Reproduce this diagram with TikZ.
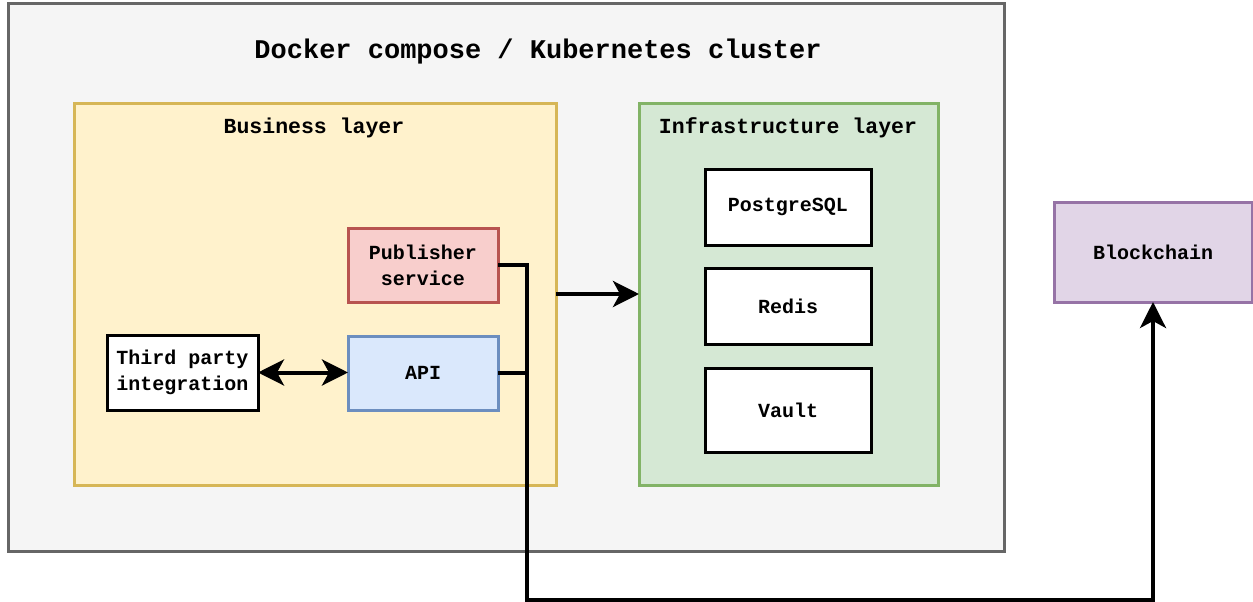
\documentclass[tikz,border=0pt]{standalone}
\usepackage{fontspec}
\setmainfont{Liberation Mono}
\usetikzlibrary{arrows.meta}
\definecolor{outerfill}{HTML}{F5F5F5}
\definecolor{outerdraw}{HTML}{666666}
\definecolor{bizfill}{HTML}{FFF2CC}
\definecolor{bizdraw}{HTML}{D6B656}
\definecolor{infrafill}{HTML}{D5E8D4}
\definecolor{infradraw}{HTML}{82B366}
\definecolor{pubfill}{HTML}{F8CECC}
\definecolor{pubdraw}{HTML}{B85450}
\definecolor{apifill}{HTML}{DAE8FC}
\definecolor{apidraw}{HTML}{6C8EBF}
\definecolor{bcfill}{HTML}{E1D5E7}
\definecolor{bcdraw}{HTML}{9673A6}
\tikzset{
  box/.style={rectangle, inner sep=0pt, outer sep=0pt, line width=3pt, align=center,
    font=\fontsize{20}{26}\selectfont\bfseries},
  conn/.style={line width=4pt},
  tip/.style={-{Stealth[length=26pt,width=26pt,inset=7pt]}},
  tips/.style={{Stealth[length=26pt,width=26pt,inset=7pt]}-{Stealth[length=26pt,width=26pt,inset=7pt]}},
}
\begin{document}
\begin{tikzpicture}[x=1pt,y=-1pt]
\useasboundingbox (0,0) rectangle (1253,602);
% containers
\node[box, fill=outerfill, draw=outerdraw, minimum width=996pt, minimum height=547pt] (outer) at (506,277.5) {};
\node[font=\fontsize{27}{32}\selectfont\bfseries] (title) at (538,52) {Docker compose / Kubernetes cluster};
\node[box, fill=bizfill, draw=bizdraw, minimum width=482pt, minimum height=382pt] (biz) at (315,294) {};
\node[font=\fontsize{21.5}{26}\selectfont\bfseries] (bizlabel) at (314,128) {Business layer};
\node[box, fill=infrafill, draw=infradraw, minimum width=299pt, minimum height=382pt] (infra) at (788.5,294) {};
\node[font=\fontsize{21.5}{26}\selectfont\bfseries] (infralabel) at (788,128) {Infrastructure layer};
% infra boxes
\node[box, fill=white, draw=black, minimum width=166pt, minimum height=76pt] (pg) at (788,207) {PostgreSQL};
\node[box, fill=white, draw=black, minimum width=166pt, minimum height=76pt] (redis) at (788,306) {Redis};
\node[box, fill=white, draw=black, minimum width=166pt, minimum height=84pt] (vault) at (788,410) {Vault};
% business boxes
\node[box, fill=pubfill, draw=pubdraw, minimum width=150pt, minimum height=74pt] (pub) at (423,265) {Publisher\\service};
\node[box, fill=apifill, draw=apidraw, minimum width=150pt, minimum height=74pt] (api) at (423,373) {API};
\node[box, fill=white, draw=black, minimum width=151pt, minimum height=75pt] (tp) at (182.5,372.5) {Third party\\integration};
% blockchain
\node[box, fill=bcfill, draw=bcdraw, minimum width=198pt, minimum height=100pt] (bc) at (1153,252) {Blockchain};
% connectors
\coordinate (bend) at (527,600);
\draw[conn, tips] (tp.east) -- (tp.east -| api.west);
\draw[conn, tip] (biz.east) -- (biz.east -| infra.west);
\draw[conn] (api.east) -- (api.east -| bend);
\draw[conn, tip] (pub.east) -| (bend) -| (bc.south);
\end{tikzpicture}
\end{document}
